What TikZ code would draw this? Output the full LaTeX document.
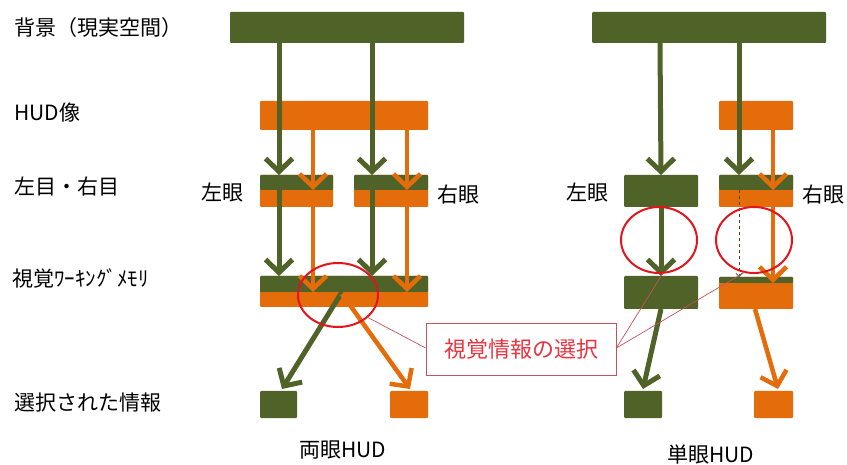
\documentclass[tikz,border=0pt]{standalone}
\usepackage{fontspec}
\setmainfont{Noto Sans CJK JP}
\usetikzlibrary{arrows.meta,calc}
\definecolor{hgreen}{HTML}{4F6228}
\definecolor{horange}{HTML}{E46C0A}
\definecolor{hred}{HTML}{E3141B}
\definecolor{cred}{HTML}{E8343F}
\definecolor{cline}{HTML}{C8505A}
\begin{document}
\begin{tikzpicture}[x=1pt,y=-1pt,
  bx/.style={draw=none,inner sep=0pt,outer sep=0pt,anchor=north west,rounded corners=1pt},
  gbox/.style={bx,fill=hgreen},
  obox/.style={bx,fill=horange},
  garrow/.style={draw=hgreen,line width=5pt,-{Straight Barb[length=13pt,width=27pt]}},
  oarrow/.style={draw=horange,line width=4.5pt,-{Straight Barb[length=13pt,width=27pt]}},
  dasharrow/.style={draw=hgreen!70!black,line width=0.8pt,dashed,-{Straight Barb[length=3pt,width=6pt]}},
  ring/.style={draw=hred,line width=2pt},
  lbl/.style={font=\fontsize{21}{24}\selectfont,text=black,inner sep=0pt},
  callline/.style={draw=cline,line width=0.7pt}]
\useasboundingbox (0,0) rectangle (847,465);
\fill[white] (0,0) rectangle (847,465);

% ---------- left labels
\node[lbl,anchor=west] (t1) at (14,28) {背景（現実空間）};
\node[lbl,anchor=west] (t2) at (14,113) {HUD像};
\node[lbl,anchor=west] (t3) at (14,187) {左目・右目};
\node[lbl,anchor=west] (t4) at (12,278) {視覚ﾜｰｷﾝｸﾞﾒﾓﾘ};
\node[lbl,anchor=west] (t5) at (14,403) {選択された情報};

% ---------- binocular
\node[gbox,minimum width=234pt,minimum height=31pt] (bgL) at (230,12) {};
\node[obox,minimum width=168pt,minimum height=29pt] (hudL) at (260,101) {};
\node[obox,minimum width=73pt,minimum height=32pt] (eLLo) at (260,175) {};
\node[gbox,minimum width=73pt,minimum height=15pt] (eLLg) at (260,175) {};
\node[obox,minimum width=74pt,minimum height=32pt] (eLRo) at (354,175) {};
\node[gbox,minimum width=74pt,minimum height=15pt] (eLRg) at (354,175) {};
\node[obox,minimum width=168pt,minimum height=31pt] (mLo) at (260,276) {};
\node[gbox,minimum width=168pt,minimum height=16pt] (mLg) at (260,276) {};
\node[gbox,minimum width=37pt,minimum height=27pt] (sLg) at (260,391) {};
\node[obox,minimum width=38pt,minimum height=27pt] (sLo) at (390,391) {};

\node[lbl,anchor=west] (eyeL1) at (201,193) {左眼};
\node[lbl,anchor=west] (eyeR1) at (437,195) {右眼};
\node[lbl] (capL) at (343,450) {両眼HUD};

\draw[garrow] ($(bgL.south west)+(49,0)$) -- ($(eLLg.north west)+(19,0)$);
\draw[garrow] ($(bgL.south west)+(142,0)$) -- ($(eLRg.north west)+(18,0)$);
\draw[oarrow] ($(hudL.south west)+(53,0)$) -- ($(eLLg.south west)+(53,0)$);
\draw[oarrow] ($(hudL.south west)+(147,0)$) -- ($(eLRg.south west)+(53,0)$);
\draw[garrow] ($(eLLg.south west)+(19,0)$) -- ($(mLg.north west)+(19,0)$);
\draw[garrow] ($(eLRg.south west)+(18,0)$) -- ($(mLg.north west)+(112,0)$);
\draw[oarrow] ($(eLLo.south west)+(53,0)$) -- ($(mLg.south west)+(53,0)$);
\draw[oarrow] ($(eLRo.south west)+(53,0)$) -- ($(mLg.south west)+(147,0)$);
\draw[garrow] ($(mLg.south west)+(82,0)$) -- ($(sLg.north west)+(22,-2)$);
\draw[oarrow] ($(mLg.south west)+(82,2)$) -- ($(sLo.north west)+(20,-2)$);

\draw[ring] (338,295) ellipse [x radius=40, y radius=32];

% ---------- monocular
\node[gbox,minimum width=234pt,minimum height=31pt] (bgR) at (592,12) {};
\node[obox,minimum width=74pt,minimum height=29pt] (hudR) at (719,101) {};
\node[gbox,minimum width=74pt,minimum height=32pt] (eRL) at (624,175) {};
\node[obox,minimum width=74pt,minimum height=32pt] (eRRo) at (719,175) {};
\node[gbox,minimum width=74pt,minimum height=15pt] (eRRg) at (719,175) {};
\node[gbox,minimum width=74pt,minimum height=33pt] (mRL) at (624,276) {};
\node[obox,minimum width=74pt,minimum height=32pt] (mRRo) at (719,277) {};
\node[gbox,minimum width=74pt,minimum height=6pt] (mRRg) at (719,277) {};
\node[gbox,minimum width=38pt,minimum height=27pt] (sRg) at (624,391) {};
\node[obox,minimum width=39pt,minimum height=27pt] (sRo) at (754,391) {};

\node[lbl,anchor=west] (eyeL2) at (566,193) {左眼};
\node[lbl,anchor=west] (eyeR2) at (802,195) {右眼};
\node[lbl] (capR) at (711,455) {単眼HUD};

\draw[garrow] ($(bgR.south west)+(68,0)$) -- (eRL.north);
\draw[garrow] ($(bgR.south west)+(147,0)$) -- ($(eRRg.north west)+(20,0)$);
\draw[oarrow] ($(hudR.south west)+(54,0)$) -- ($(eRRg.south west)+(54,0)$);
\draw[garrow] (eRL.south) -- (mRL.north);
\draw[dasharrow] ($(eRRg.south west)+(20,0)$) -- ($(mRRg.north west)+(20,0)$);
\draw[oarrow] ($(eRRo.south west)+(54,0)$) -- ($(mRRg.south west)+(54,0)$);
\draw[garrow] (mRL.south) -- ($(sRg.north west)+(19,-2)$);
\draw[oarrow] ($(mRRo.south west)+(36,0)$) -- ($(sRo.north west)+(24,-2)$);

\draw[ring] (659,240) ellipse [x radius=38, y radius=33];
\draw[ring] (754,240) ellipse [x radius=38, y radius=33];

% ---------- callout
\node[draw=cline,line width=0.8pt,fill=white,minimum width=190pt,minimum height=52pt,inner sep=0pt,
      font=\fontsize{22}{25}\selectfont,text=cred] (call) at (521,349) {視覚情報の選択};
\coordinate (pL) at (367,317);
\coordinate (pR1) at (663,273);
\coordinate (pR2) at (745,272);
\draw[callline] (pL) -- ($(call.west)+(0,-1)$);
\draw[callline] (pR1) -- ($(call.east)+(0,-1)$);
\draw[callline] (pR2) -- ($(call.east)+(0,-1)$);
\end{tikzpicture}
\end{document}
